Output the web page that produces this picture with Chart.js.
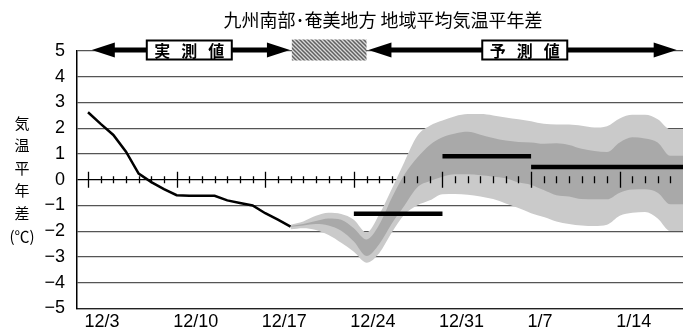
<!DOCTYPE html>
<html lang="ja">
<head>
<meta charset="utf-8">
<title>地域平均気温平年差</title>
<script src="https://cdn.jsdelivr.net/npm/chart.js@4.4.1/dist/chart.umd.min.js"></script>
<style>
  html, body { margin: 0; padding: 0; background: #fff; }
  #wrap { width: 683px; height: 332px; }
</style>
</head>
<body>
<div id="wrap"><canvas id="chart" width="683" height="332"></canvas></div>
<script>
// 日付は 12/3 を 0 日目とした日数
const xTickDays = [0, 7, 14, 21, 28, 35, 42];
const xTickLabels = ['12/3', '12/10', '12/17', '12/24', '12/31', '1/7', '1/14'];

// 実測値（日別）
const obsDays = [0, 1, 2, 3, 4, 5, 6, 7, 8, 9, 10, 11, 12, 13, 14, 15, 16];
const obsValues = [2.62, 2.17, 1.74, 1.09, 0.24, -0.09, -0.36, -0.6, -0.62, -0.62, -0.62, -0.8, -0.9, -1.0, -1.3, -1.55, -1.82];

// 予測（日別）の幅
const fcDays = [16, 17, 18, 19, 20, 21, 22, 23, 24, 25, 26, 27, 28, 29, 30, 31,
  32, 33, 34, 35, 36, 37, 38, 39, 40, 41, 42, 43, 44, 45, 46, 47];
const outerTop = [-1.75, -1.62, -1.4, -1.28, -1.33, -1.55, -2.05, -1.35, -0.35, 0.7, 1.7, 2.1,
  2.3, 2.47, 2.55, 2.55, 2.5, 2.42, 2.35, 2.27, 2.17, 2.15, 2.15, 2.1, 2.03, 2.08, 2.38, 2.52,
  2.52, 2.35, 1.96, 1.96];
const innerTop = [-1.8, -1.72, -1.6, -1.5, -1.55, -1.88, -2.32, -1.75, -0.7, 0.2, 0.85, 1.35,
  1.65, 1.8, 1.86, 1.75, 1.62, 1.52, 1.47, 1.45, 1.4, 1.42, 1.35, 1.2, 1.12, 1.08, 1.45, 1.65,
  1.6, 1.45, 0.93, 0.93];
const innerBottom = [-1.83, -1.78, -1.72, -1.78, -1.98, -2.4, -2.96, -2.5, -1.7, -1.0, -0.3, -0.05,
  0.12, 0.21, 0.21, 0.17, 0.12, 0.06, -0.1, -0.2, -0.4, -0.6, -0.65, -0.75, -0.76, -0.76, -0.5,
  -0.38, -0.37, -0.5, -0.95, -0.95];
const outerBottom = [-1.92, -1.88, -1.95, -2.15, -2.45, -2.8, -3.22, -2.85, -2.05, -1.35, -1.0,
  -0.8, -0.56, -0.55, -0.58, -0.65, -0.75, -0.92, -1.1, -1.3, -1.45, -1.62, -1.72, -1.78, -1.8,
  -1.75, -1.4, -1.28, -1.25, -1.5, -1.99, -1.99];

// 週平均（予測）
const weekStart = [21, 28, 35];
const weekEnd = [28, 35, 47];
const weekMean = [-1.32, 0.91, 0.5];

const pts = (days, vals) => days.map((d, i) => ({ x: d, y: vals[i] }));

const bandStyle = {
  borderWidth: 0,
  borderColor: 'transparent',
  pointRadius: 0,
  tension: 0.4,
  cubicInterpolationMode: 'monotone'
};

const datasets = [
  {
    data: pts(obsDays, obsValues),
    borderColor: '#000',
    borderWidth: 2.5,
    pointRadius: 0,
    tension: 0,
    fill: false
  }
];
weekMean.forEach((m, i) => {
  datasets.push({
    data: [{ x: weekStart[i], y: m }, { x: weekEnd[i], y: m }],
    borderColor: '#000',
    borderWidth: 4.5,
    borderCapStyle: 'butt',
    pointRadius: 0,
    fill: false
  });
});
// 濃い帯を先に置く（後から描かれる）
const innerIdx = datasets.length;
datasets.push({ ...bandStyle, data: pts(fcDays, innerTop), fill: { target: innerIdx + 1 }, backgroundColor: '#a9a9a9' });
datasets.push({ ...bandStyle, data: pts(fcDays, innerBottom), fill: false });
const outerIdx = datasets.length;
datasets.push({ ...bandStyle, data: pts(fcDays, outerTop), fill: { target: outerIdx + 1 }, backgroundColor: '#cacaca' });
datasets.push({ ...bandStyle, data: pts(fcDays, outerBottom), fill: false });

// 斜線パターン
function makeHatch(ctx) {
  const c = document.createElement('canvas');
  c.width = 4; c.height = 4;
  const g = c.getContext('2d');
  g.fillStyle = '#d8d8d8';
  g.fillRect(0, 0, 4, 4);
  g.strokeStyle = '#606060';
  g.lineWidth = 1.5;
  g.beginPath();
  g.moveTo(-1, -1); g.lineTo(5, 5);
  g.moveTo(3, -1); g.lineTo(5, 1);
  g.moveTo(-1, 3); g.lineTo(1, 5);
  g.stroke();
  return ctx.createPattern(c, 'repeat');
}

function drawArrow(ctx, x1, x2, y) {
  const head = 23, half = 7.5;
  ctx.fillStyle = '#000';
  ctx.fillRect(x1 + head - 1, y - 2.5, (x2 - x1) - 2 * head + 2, 5);
  ctx.beginPath();
  ctx.moveTo(x1, y); ctx.lineTo(x1 + head, y - half); ctx.lineTo(x1 + head, y + half); ctx.closePath();
  ctx.fill();
  ctx.beginPath();
  ctx.moveTo(x2, y); ctx.lineTo(x2 - head, y - half); ctx.lineTo(x2 - head, y + half); ctx.closePath();
  ctx.fill();
}

function drawLabelBox(ctx, cx, y, chars) {
  const w = 85, h = 19;
  ctx.fillStyle = '#fff';
  ctx.fillRect(cx - w / 2, y - h / 2, w, h);
  ctx.strokeStyle = '#000';
  ctx.lineWidth = 2;
  ctx.strokeRect(cx - w / 2, y - h / 2, w, h);
  ctx.fillStyle = '#000';
  ctx.font = 'bold 16px "Noto Sans CJK JP"';
  ctx.textAlign = 'center';
  ctx.textBaseline = 'middle';
  chars.forEach((ch, i) => ctx.fillText(ch, cx + (i - 1) * 27, y + 1));
}

const decor = {
  id: 'decor',
  afterDraw(chart) {
    const { ctx, chartArea, scales } = chart;
    const xs = scales.x, ys = scales.y;
    ctx.save();

    // 0 線上の日目盛り
    const y0 = ys.getPixelForValue(0);
    ctx.strokeStyle = '#000';
    ctx.lineWidth = 1.3;
    for (let d = 0; d <= 46; d++) {
      const px = Math.round(xs.getPixelForValue(d)) + 0.5;
      const len = d % 7 === 0 ? 8 : 3.5;
      ctx.beginPath();
      ctx.moveTo(px, y0 - len);
      ctx.lineTo(px, y0 + len);
      ctx.stroke();
    }

    // タイトル
    ctx.fillStyle = '#000';
    ctx.font = '18px "Noto Sans CJK JP"';
    ctx.textAlign = 'center';
    ctx.textBaseline = 'middle';
    ctx.fillText('九州南部･奄美地方 地域平均気温平年差', 383, 20);

    // 縦軸タイトル
    ctx.font = '15px "Noto Sans CJK JP"';
    ['気', '温', '平', '年', '差'].forEach((ch, i) => ctx.fillText(ch, 22, 123 + i * 22.5));
    ctx.fillText('(℃)', 22, 236);

    // 実測値・予測値の矢印
    const ya = chartArea.top - 1;
    drawArrow(ctx, xs.getPixelForValue(0.3), xs.getPixelForValue(15.95), ya);
    drawArrow(ctx, xs.getPixelForValue(22.15), xs.getPixelForValue(46.5), ya);
    const hx1 = xs.getPixelForValue(16.1), hx2 = xs.getPixelForValue(22);
    ctx.fillStyle = makeHatch(ctx);
    ctx.fillRect(hx1, ya - 10.5, hx2 - hx1, 21);
    drawLabelBox(ctx, xs.getPixelForValue(8), ya, ['実', '測', '値']);
    drawLabelBox(ctx, xs.getPixelForValue(34.5), ya, ['予', '測', '値']);

    ctx.restore();
  }
};

new Chart(document.getElementById('chart'), {
  type: 'line',
  data: { datasets },
  plugins: [decor],
  options: {
    responsive: false,
    animation: false,
    devicePixelRatio: 1,
    layout: { padding: { top: 51, left: 0, right: 0, bottom: 0 } },
    plugins: {
      legend: { display: false },
      title: { display: false },
      tooltip: { enabled: false }
    },
    scales: {
      x: {
        type: 'linear',
        min: -0.87,
        max: 47,
        afterBuildTicks: (scale) => { scale.ticks = xTickDays.map(v => ({ value: v })); },
        afterFit: (scale) => { scale.height = 23.5; },
        grid: { display: false, drawTicks: false },
        border: { display: true, color: '#222', width: 1.3 },
        ticks: {
          autoSkip: false,
          maxRotation: 0,
          align: 'start',
          labelOffset: -3.5,
          padding: 3,
          color: '#000',
          font: { family: '"Liberation Sans"', size: 18 },
          callback: (v) => xTickLabels[xTickDays.indexOf(v)]
        }
      },
      y: {
        min: -5,
        max: 5,
        z: 1,
        afterFit: (scale) => { scale.width = 77; },
        grid: {
          drawTicks: false,
          color: (c) => (c.tick && c.tick.value === 0 ? '#000' : '#555'),
          lineWidth: 1.3
        },
        border: { display: true, color: '#000', width: 1.5 },
        ticks: {
          stepSize: 1,
          padding: 12,
          color: '#000',
          font: { family: '"Liberation Sans"', size: 18 },
          callback: (v) => (v < 0 ? '−' + Math.abs(v) : String(v))
        }
      }
    }
  }
});
</script>
</body>
</html>
